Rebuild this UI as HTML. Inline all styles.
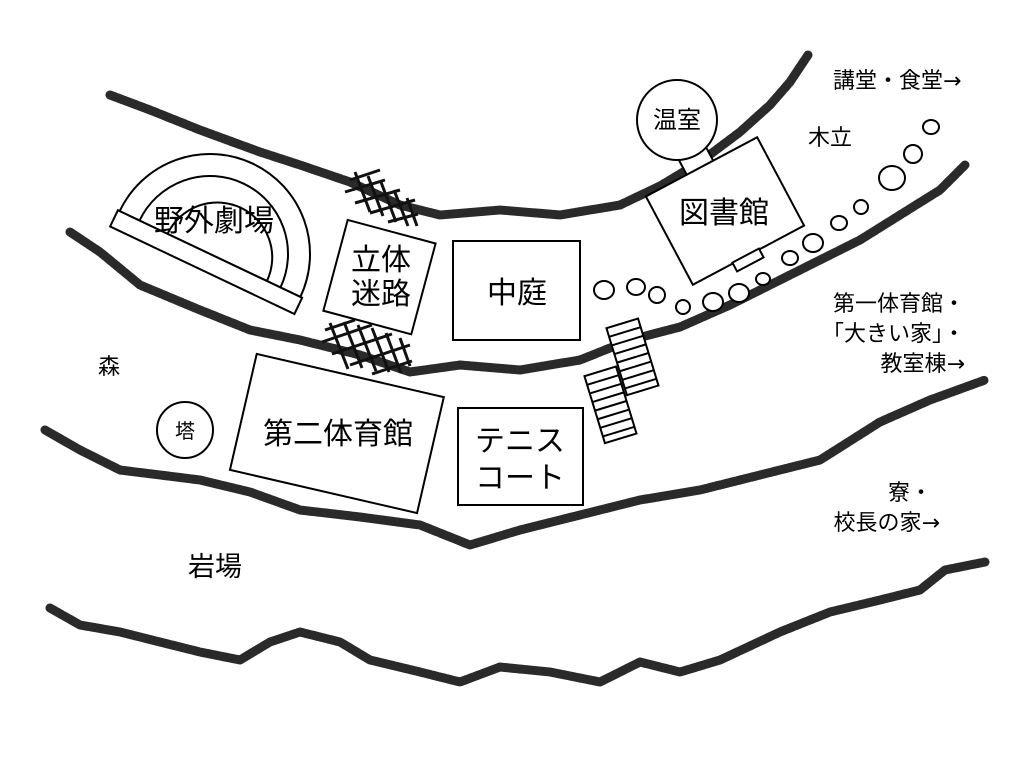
<!DOCTYPE html>
<html><head><meta charset="utf-8"><style>
html,body{margin:0;padding:0;background:#fff;width:1024px;height:768px;overflow:hidden}
svg{display:block}
text{font-family:"Liberation Sans","Noto Sans CJK JP",sans-serif;fill:#000}
</style></head><body>
<svg width="1024" height="768" viewBox="0 0 1024 768" xmlns="http://www.w3.org/2000/svg">
<g fill="none" stroke="#2a2a2a" stroke-width="9" stroke-linecap="round" stroke-linejoin="round" stroke-dasharray="6 1.5">
<polyline points="110,95 150,110 200,130 260,152 300,165 350,182 400,205 440,215 500,210 560,215 620,205 660,186 700,162 740,132 770,105 790,82 808,55"/>
<polyline points="70,232 100,252 140,285 200,310 250,330 300,340 360,355 410,372 460,365 520,370 580,360 630,340 680,327 730,305 800,270 860,240 900,215 940,190 965,165"/>
<polyline points="45,430 80,450 120,470 200,480 250,492 300,510 360,517 420,525 470,545 520,530 580,515 640,500 700,490 760,475 820,460 880,422 930,400 985,380"/>
<polyline points="50,608 80,625 120,632 160,642 200,652 240,660 270,642 300,632 340,642 370,660 420,672 460,682 500,667 550,672 600,682 640,662 680,672 720,660 780,632 830,612 880,600 920,590 945,570 985,562"/>
</g>
<g stroke="#111" stroke-width="3" fill="none">
<path d="M350,180 l30,-10 M345,192 l40,-12 M355,203 l45,-13 M370,213 l45,-13 M388,222 l30,-8"/>
<path d="M355,172 l15,40 M368,176 l15,40 M381,182 l15,40 M394,190 l14,36 M407,198 l10,28"/>
<path d="M325,330 l30,-10 M322,342 l50,-17 M332,354 l60,-20 M350,365 l60,-20 M372,374 l40,-13"/>
<path d="M330,323 l18,46 M344,322 l18,46 M358,325 l18,46 M372,328 l17,44 M386,333 l15,40 M400,338 l10,28"/>
</g>
<g fill="#fff" stroke="#000" stroke-width="2">
<g transform="translate(210,254) rotate(25.4)">
<path d="M-100,0 A100,100 0 0 1 100,0 Z"/>
<path d="M-78,0 A78,78 0 0 1 78,0" fill="none"/>
<path d="M-55,0 A55,55 0 0 1 55,0" fill="none" transform="translate(8,0)"/>
<rect x="-102" y="0" width="204" height="18"/>
</g>
<rect x="334" y="230" width="91" height="94" transform="rotate(15 379 277)"/>
<rect x="453" y="241" width="127" height="99"/>
<rect x="241" y="374" width="192" height="119" transform="rotate(13 337 433)"/>
<rect x="458" y="408" width="125" height="97"/>
<rect x="683" y="150" width="30" height="28" transform="rotate(-28 698 164)"/>
<circle cx="677" cy="120" r="40"/>
<rect x="662" y="161" width="126" height="100" transform="rotate(-28 725 211)"/>
<rect x="733" y="255" width="30" height="10" transform="rotate(-28 748 260)"/>
<circle cx="185" cy="430" r="28"/>
<g transform="rotate(-17 632 357)"><rect x="616" y="322" width="33" height="70"/>
<path d="M616,331h33M616,340h33M616,349h33M616,358h33M616,367h33M616,376h33M616,385h33"/></g>
<g transform="rotate(-17 610 405)"><rect x="594" y="370" width="33" height="70"/>
<path d="M594,379h33M594,388h33M594,397h33M594,406h33M594,415h33M594,424h33M594,433h33"/></g>
<g stroke-width="2">
<ellipse cx="604" cy="290" rx="10" ry="9"/><ellipse cx="636" cy="287" rx="9" ry="8"/>
<ellipse cx="657" cy="295" rx="8" ry="8"/><ellipse cx="683" cy="307" rx="7" ry="7"/>
<ellipse cx="713" cy="302" rx="10" ry="9"/><ellipse cx="739" cy="293" rx="10" ry="9"/>
<ellipse cx="763" cy="279" rx="7" ry="6"/><ellipse cx="790" cy="258" rx="8" ry="7"/>
<ellipse cx="813" cy="243" rx="10" ry="9"/><ellipse cx="839" cy="223" rx="8" ry="7"/>
<ellipse cx="861" cy="207" rx="7" ry="7"/><ellipse cx="892" cy="178" rx="13" ry="12"/>
<ellipse cx="913" cy="154" rx="9" ry="9"/><ellipse cx="931" cy="127" rx="8" ry="7"/>
</g>
</g>
<g font-size="30">
<text x="214" y="231" text-anchor="middle">野外劇場</text>
<text x="381" y="270" text-anchor="middle">立体</text>
<text x="381" y="304" text-anchor="middle">迷路</text>
<text x="517" y="303" text-anchor="middle">中庭</text>
<text x="338" y="444" text-anchor="middle">第二体育館</text>
<text x="724" y="223" text-anchor="middle">図書館</text>
<text x="520" y="451" text-anchor="middle">テニス</text>
<text x="520" y="488" text-anchor="middle">コート</text>
</g>
<text x="677" y="128" font-size="24" text-anchor="middle">温室</text>
<text x="185" y="438" font-size="20" text-anchor="middle">塔</text>
<g font-size="22">
<text x="833" y="88">講堂・食堂<tspan font-family="DejaVu Sans">→</tspan></text>
<text x="808" y="145">木立</text>
<text x="98" y="374">森</text>
<text x="965" y="311" text-anchor="end">第一体育館・</text>
<text x="965" y="341" text-anchor="end">「大きい家」・</text>
<text x="965" y="371" text-anchor="end">教室棟<tspan font-family="DejaVu Sans">→</tspan></text>
<text x="932" y="500" text-anchor="end">寮・</text>
<text x="940" y="530" text-anchor="end">校長の家<tspan font-family="DejaVu Sans">→</tspan></text>
</g>
<text x="188" y="576" font-size="27">岩場</text>
</svg>
</body></html>
